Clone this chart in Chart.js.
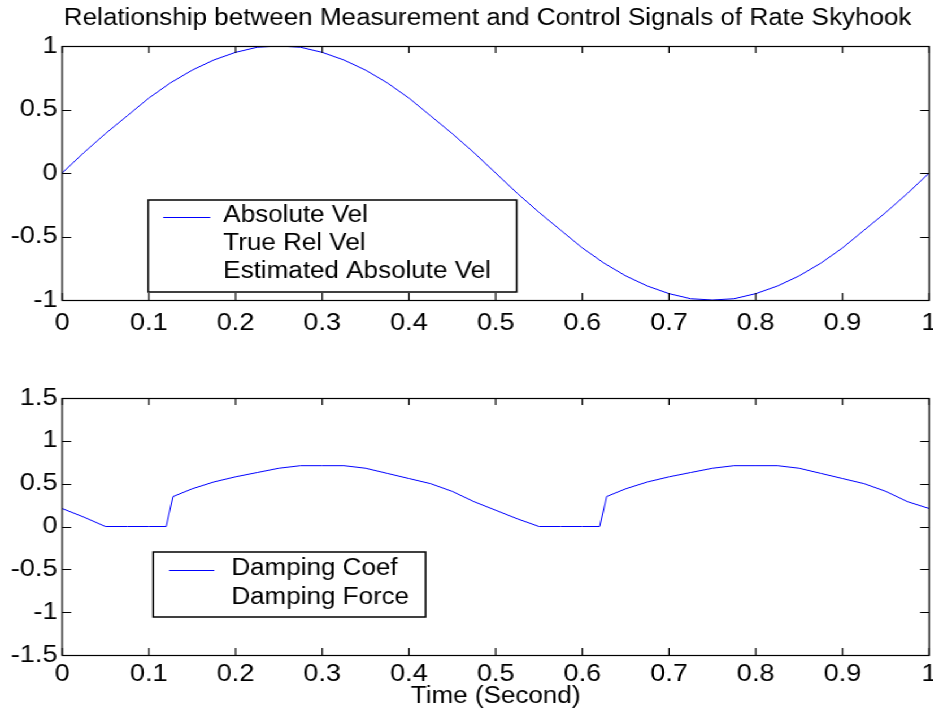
<!DOCTYPE html>
<html>
<head>
<meta charset="utf-8">
<script src="https://cdn.jsdelivr.net/npm/chart.js@4.4.1/dist/chart.umd.min.js"></script>
<style>
  html, body { margin: 0; padding: 0; background: #fff; overflow: hidden; }
  /* the reference is a little wider than tall-for-its-font, so stretch the whole stage */
  #stage { position: absolute; left: 0; top: 0; width: 825.66px; height: 721px; transform: scaleX(1.13); transform-origin: 0 0; }
  .box { position: absolute; left: 0; width: 100%; }
</style>
</head>
<body>
<div id="stage">
  <div class="box" style="top:0;height:340px"><canvas id="velChart"></canvas></div>
  <div class="box" style="top:340px;height:381px"><canvas id="dampChart"></canvas></div>
</div>
<script>
// --- DATA ---
const timeVel = [0, 0.025, 0.05, 0.075, 0.1, 0.125, 0.15, 0.175, 0.2, 0.225, 0.25, 0.275, 0.3, 0.325, 0.35, 0.375, 0.4, 0.425, 0.45, 0.475,
                 0.5, 0.525, 0.55, 0.575, 0.6, 0.625, 0.65, 0.675, 0.7, 0.725, 0.75, 0.775, 0.8, 0.825, 0.85, 0.875, 0.9, 0.925, 0.95, 0.975, 1];
const absoluteVel = [0, 0.16, 0.31, 0.45, 0.59, 0.71, 0.81, 0.89, 0.95, 0.99, 1, 0.99, 0.95, 0.89, 0.81, 0.71, 0.59, 0.45, 0.31, 0.16,
                     0, -0.16, -0.31, -0.45, -0.59, -0.71, -0.81, -0.89, -0.95, -0.99, -1, -0.99, -0.95, -0.89, -0.81, -0.71, -0.59, -0.45, -0.31, -0.16, 0];

const dampTime = [0, 0.025, 0.05, 0.075, 0.1, 0.12, 0.128, 0.15, 0.175, 0.2, 0.225, 0.25, 0.275, 0.3, 0.325, 0.35, 0.375, 0.4, 0.425, 0.45, 0.475,
                  0.5, 0.525, 0.55, 0.575, 0.6, 0.62, 0.628, 0.65, 0.675, 0.7, 0.725, 0.75, 0.775, 0.8, 0.825, 0.85, 0.875, 0.9, 0.925, 0.95, 0.975, 1];
const dampCoef = [0.21, 0.11, 0, 0, 0, 0, 0.35, 0.44, 0.52, 0.58, 0.63, 0.68, 0.71, 0.71, 0.71, 0.68, 0.62, 0.56, 0.5, 0.41, 0.29,
                  0.19, 0.09, 0, 0, 0, 0, 0.35, 0.44, 0.52, 0.58, 0.63, 0.68, 0.71, 0.71, 0.71, 0.68, 0.62, 0.56, 0.5, 0.41, 0.29, 0.21];

const velLabels = ['Absolute Vel', 'True Rel Vel', 'Estimated Absolute Vel'];
const dampLabels = ['Damping Coef', 'Damping Force'];
const chartTitle = 'Relationship between Measurement and Control Signals of Rate Skyhook';
const xTitle = 'Time (Second)';

// --- HELPERS ---
const S = 1.13;              // horizontal stretch of the stage
const sx = v => v / S;       // reference px -> layout px
const FONT = '"Liberation Sans", Arial, sans-serif';

Chart.defaults.font.family = FONT;
Chart.defaults.color = '#000';

const toPoints = (xs, ys) => xs.map((t, i) => ({ x: t, y: ys[i] }));

// MATLAB style box with inward ticks on all four sides
const framePlugin = {
    id: 'frame',
    afterDraw(chart) {
        const { ctx, chartArea: a, scales: { x, y } } = chart;
        ctx.save();
        ctx.strokeStyle = '#000';
        ctx.lineWidth = 1.2;
        ctx.beginPath();
        x.ticks.forEach(t => {
            const px = x.getPixelForValue(t.value);
            ctx.moveTo(px, a.bottom); ctx.lineTo(px, a.bottom - 7);
            ctx.moveTo(px, a.top); ctx.lineTo(px, a.top + 7);
        });
        y.ticks.forEach(t => {
            const py = Math.round(y.getPixelForValue(t.value)) + 0.5;
            ctx.moveTo(a.left, py); ctx.lineTo(a.left + 8, py);
            ctx.moveTo(a.right, py); ctx.lineTo(a.right - 8, py);
        });
        ctx.stroke();
        ctx.strokeRect(a.left, Math.round(a.top) + 0.5, a.right - a.left, Math.round(a.bottom - a.top));
        ctx.restore();
    }
};

// legend box drawn inside the plot, like the original
const boxLegendPlugin = {
    id: 'boxLegend',
    afterDraw(chart, args, opts) {
        const { ctx } = chart;
        ctx.save();
        ctx.fillStyle = '#fff';
        ctx.fillRect(opts.x, opts.y, opts.w, opts.h);
        ctx.strokeStyle = '#000';
        ctx.lineWidth = 1.5;
        ctx.strokeRect(opts.x, opts.y, opts.w, opts.h);
        ctx.font = '23px ' + FONT;
        ctx.textBaseline = 'middle';
        ctx.textAlign = 'left';
        chart.data.datasets.forEach((ds, i) => {
            const ry = opts.rows[i];
            ctx.strokeStyle = ds.borderColor;
            ctx.lineWidth = 1;
            ctx.beginPath();
            ctx.moveTo(opts.lineX0, ry + 1.5);
            ctx.lineTo(opts.lineX1, ry + 1.5);
            ctx.stroke();
            ctx.fillStyle = '#000';
            ctx.fillText(ds.label, opts.textX, ry);
        });
        ctx.restore();
    }
};

const titlePlugin = {
    id: 'topTitle',
    afterDraw(chart, args, opts) {
        if (!opts.text) return;
        const { ctx } = chart;
        ctx.save();
        ctx.font = '23px ' + FONT;
        ctx.fillStyle = '#000';
        ctx.textAlign = 'center';
        ctx.textBaseline = 'middle';
        ctx.fillText(opts.text, opts.x, opts.y);
        ctx.restore();
    }
};

function buildOptions({ yMin, yMax, padTop, axisHeight, xPad, legend, title, showXTitle }) {
    return {
        responsive: true,
        maintainAspectRatio: false,
        animation: false,
        events: [],
        layout: { padding: { top: padTop, left: 0, right: sx(933) - sx(928), bottom: 0 } },
        elements: { point: { radius: 0 }, line: { borderWidth: 1, tension: 0 } },
        scales: {
            x: {
                type: 'linear', min: 0, max: 1,
                grid: { display: false, drawTicks: false },
                border: { display: false },
                ticks: { stepSize: 0.1, padding: xPad, font: { size: 24 }, maxRotation: 0, autoSkip: false,
                         callback: v => String(+v.toFixed(1)) },
                title: { display: showXTitle, text: xTitle, font: { size: 23 }, padding: { top: 0, bottom: 11 } },
                afterFit(scale) { scale.height = axisHeight; scale.paddingLeft = 0; scale.paddingRight = 0; }
            },
            y: {
                min: yMin, max: yMax,
                grid: { display: false, drawTicks: false },
                border: { display: false },
                ticks: { stepSize: 0.5, padding: 4, font: { size: 24 }, callback: v => String(+v.toFixed(1)) },
                afterFit(scale) { scale.width = sx(62); }
            }
        },
        plugins: {
            legend: { display: false },
            tooltip: { enabled: false },
            boxLegend: legend,
            topTitle: title || {}
        }
    };
}

// --- TOP: velocities ---
new Chart(document.getElementById('velChart'), {
    type: 'line',
    data: {
        datasets: [
            { label: velLabels[0], data: toPoints(timeVel, absoluteVel), borderColor: '#0000ff' },
            { label: velLabels[1], data: [], borderColor: '#ffffff' },
            { label: velLabels[2], data: [], borderColor: '#ffffff' }
        ]
    },
    options: buildOptions({
        yMin: -1, yMax: 1, padTop: 46, axisHeight: 40, xPad: 9, showXTitle: false,
        legend: { x: sx(148), y: 200, w: sx(516) - sx(148), h: 92,
                  lineX0: sx(163), lineX1: sx(210), textX: sx(223), rows: [216, 244, 272] },
        title: { text: chartTitle, x: sx(487), y: 19 }
    }),
    plugins: [framePlugin, boxLegendPlugin, titlePlugin]
});

// --- BOTTOM: damping ---
new Chart(document.getElementById('dampChart'), {
    type: 'line',
    data: {
        datasets: [
            { label: dampLabels[0], data: toPoints(dampTime, dampCoef), borderColor: '#0000ff' },
            { label: dampLabels[1], data: [], borderColor: '#ffffff' }
        ]
    },
    options: buildOptions({
        yMin: -1.5, yMax: 1.5, padTop: 58, axisHeight: 66, xPad: 5, showXTitle: true,
        legend: { x: sx(153), y: 212, w: sx(425) - sx(153), h: 65,
                  lineX0: sx(169), lineX1: sx(214), textX: sx(231), rows: [229, 258] }
    }),
    plugins: [framePlugin, boxLegendPlugin, titlePlugin]
});
</script>
</body>
</html>
